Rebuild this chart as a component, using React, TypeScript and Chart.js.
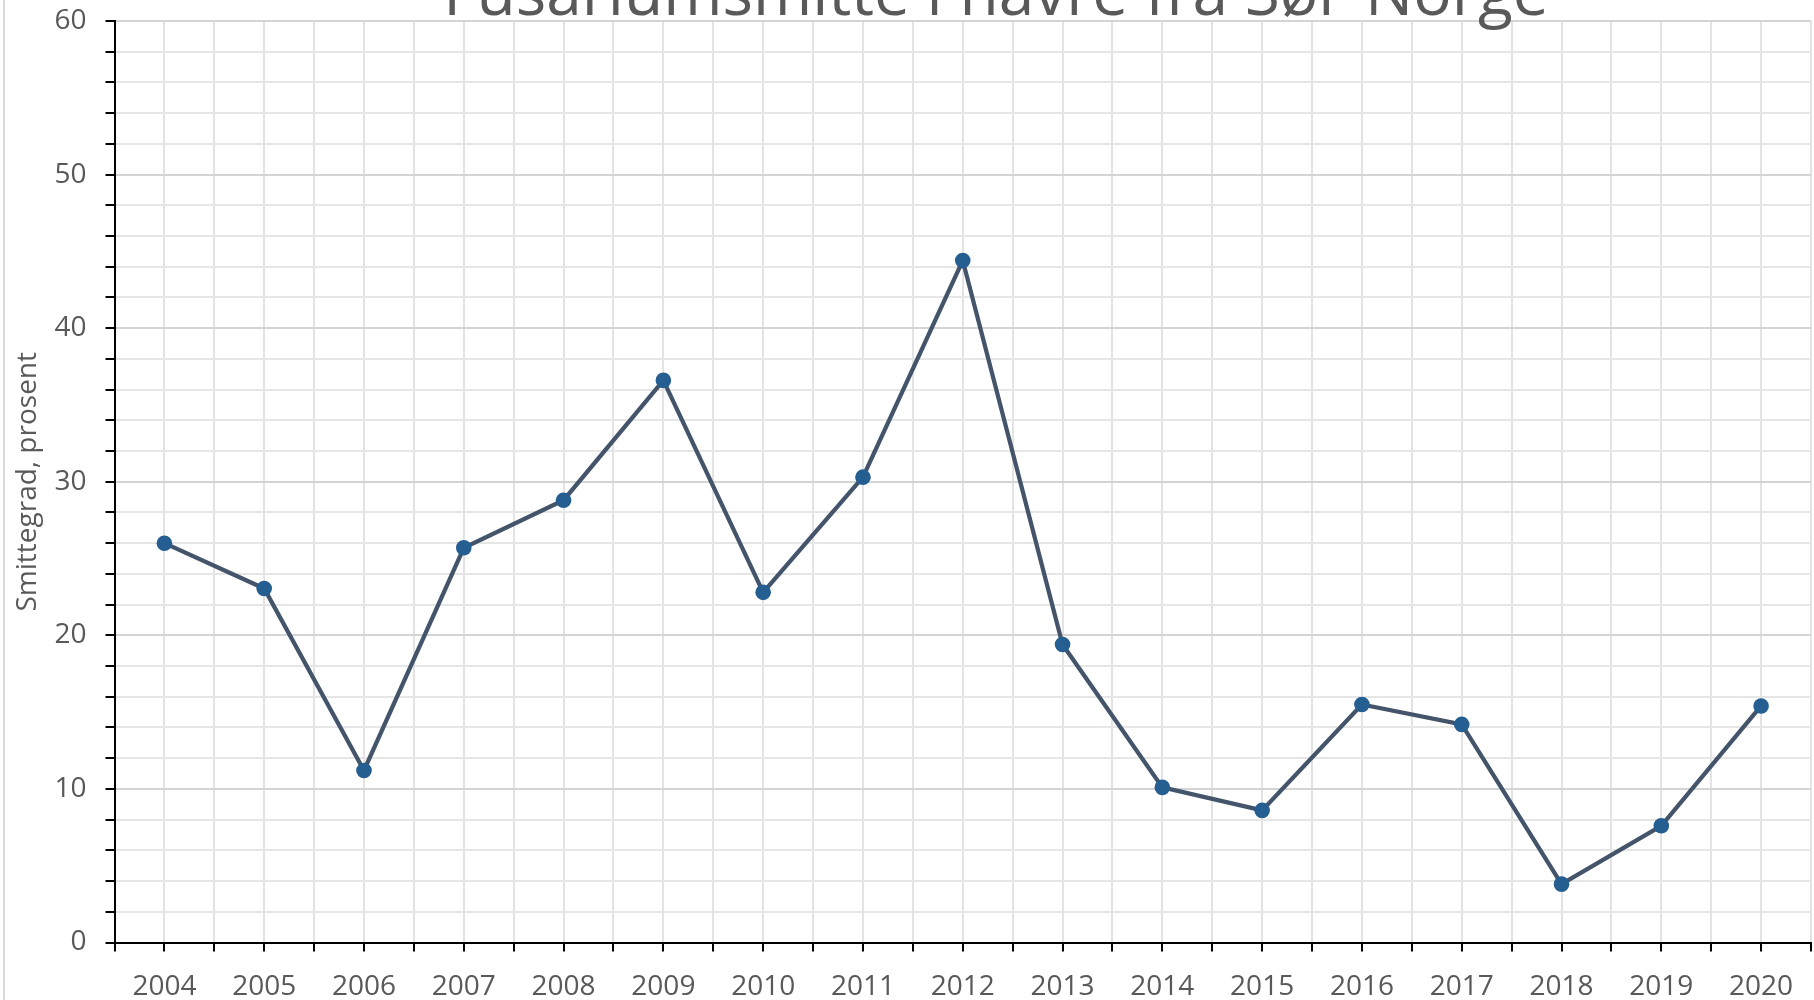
import React, { useEffect, useRef } from "react";
import { Chart, registerables } from "chart.js";

Chart.register(...registerables);

const titleText = "Fusariumsmitte i havre fra Sør-Norge";
const yAxisTitle = "Smittegrad, prosent";
const years = ["2004", "2005", "2006", "2007", "2008", "2009", "2010", "2011", "2012", "2013", "2014", "2015", "2016", "2017", "2018", "2019", "2020"];
const infection = [26.0, 23.05, 11.2, 25.7, 28.8, 36.6, 22.8, 30.3, 44.4, 19.4, 10.1, 8.6, 15.5, 14.2, 3.8, 7.6, 15.4];
const yMin = 0;
const yMax = 60;
const yMinorStep = 2;
const yMajorStep = 10;

const FONT = "'Open Sans', 'Noto Sans', sans-serif";
const TEXT = "#595959";

const topTitlePlugin = {
  id: "topTitle",
  afterDraw(chart: any) {
    const ctx = chart.ctx;
    ctx.save();
    ctx.font = `64px ${FONT}`;
    ctx.fillStyle = TEXT;
    ctx.textAlign = "center";
    ctx.textBaseline = "alphabetic";
    ctx.fillText(titleText, 996, 15);
    ctx.restore();
  },
};

export default function App() {
  const ref = useRef<HTMLCanvasElement>(null);

  useEffect(() => {
    if (!ref.current) return;
    const points = years.map((_, i) => ({ x: i, y: infection[i] }));
    const chart = new Chart(ref.current, {
      type: "line",
      data: {
        datasets: [
          {
            label: yAxisTitle,
            data: points,
            borderColor: "#44546a",
            borderWidth: 4.25,
            tension: 0,
            pointRadius: 7.8,
            pointHoverRadius: 7.8,
            pointBackgroundColor: "#255e91",
            pointBorderColor: "#255e91",
            pointBorderWidth: 0,
          },
        ],
      },
      options: {
        animation: false,
        responsive: false,
        devicePixelRatio: 1,
        layout: { autoPadding: false, padding: { left: 0, right: 3, top: 21, bottom: 0 } },
        plugins: {
          legend: { display: false },
          title: { display: false },
          tooltip: { enabled: false },
        },
        scales: {
          x: {
            type: "linear",
            min: -0.5,
            max: years.length - 0.5,
            afterFit: (s: any) => {
              s.height = 57.5;
              s.paddingLeft = 0;
              s.paddingRight = 0;
            },
            ticks: {
              stepSize: 0.5,
              autoSkip: false,
              maxRotation: 0,
              minRotation: 0,
              padding: 19,
              color: TEXT,
              font: { family: FONT, size: 28 },
              callback: (v: any) => {
                const n = Number(v);
                const r = Math.round(n);
                return Math.abs(n - r) < 1e-6 && years[r] !== undefined ? years[r] : "";
              },
            },
            grid: {
              color: "#e3e3e3",
              lineWidth: 2,
              drawTicks: true,
              tickLength: 9,
              tickColor: "#000000",
              tickWidth: 2,
            },
            border: { display: true, color: "#000000", width: 2, z: 1 },
          },
          y: {
            type: "linear",
            min: yMin,
            max: yMax,
            afterFit: (s: any) => {
              s.width = 114.5;
              s.paddingTop = 0;
              s.paddingBottom = 0;
            },
            ticks: {
              stepSize: yMinorStep,
              autoSkip: false,
              padding: 19,
              color: TEXT,
              font: { family: FONT, size: 28 },
              callback: (v: any) => (Number(v) % yMajorStep === 0 ? String(v) : ""),
            },
            grid: {
              color: (c: any) => (c.tick && c.tick.value % yMajorStep === 0 ? "#d4d4d4" : "#e6e6e6"),
              lineWidth: 2,
              drawTicks: true,
              tickLength: 9,
              tickColor: "#000000",
              tickWidth: 2,
            },
            border: { display: true, color: "#000000", width: 2, z: 1 },
            title: {
              display: true,
              text: yAxisTitle,
              color: TEXT,
              font: { family: FONT, size: 28 },
              padding: { top: 11.5, bottom: 0 },
            },
          },
        },
      },
      plugins: [topTitlePlugin],
    });
    return () => chart.destroy();
  }, []);

  return (
    <div style={{ position: "absolute", left: 0, top: 0, width: 1814, height: 1000, background: "#ffffff", overflow: "hidden" }}>
      <div style={{ position: "absolute", left: 3, top: 0, width: 2, height: 1000, background: "#d9d9d9" }} />
      <canvas ref={ref} width={1814} height={1000} style={{ position: "absolute", left: 0, top: 0, width: 1814, height: 1000 }} />
    </div>
  );
}
